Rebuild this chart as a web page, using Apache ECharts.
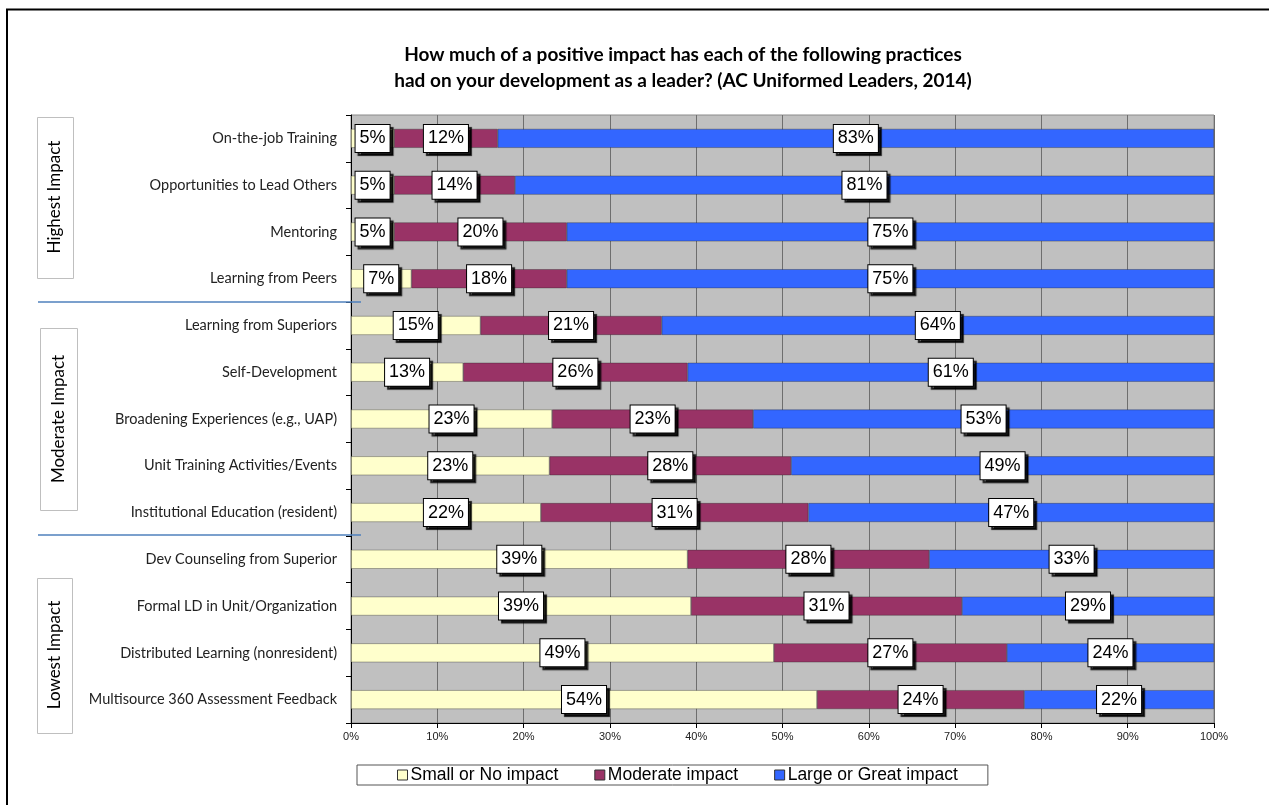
<!DOCTYPE html>
<html>
<head>
<meta charset="utf-8">
<script src="https://cdn.jsdelivr.net/npm/echarts@6/dist/echarts.min.js"></script>
<style>
html,body{margin:0;padding:0;background:#fff;}
#chart{width:1269px;height:805px;}
</style>
</head>
<body>
<div id="chart"></div>
<script>
const categories = [
  'On-the-job Training',
  'Opportunities to Lead Others',
  'Mentoring',
  'Learning from Peers',
  'Learning from Superiors',
  'Self-Development',
  'Broadening Experiences (e.g., UAP)',
  'Unit Training Activities/Events',
  'Institutional Education (resident)',
  'Dev Counseling from Superior',
  'Formal LD in Unit/Organization',
  'Distributed Learning (nonresident)',
  'Multisource 360 Assessment Feedback'
];
const smallImpact    = [5, 5, 5, 7, 15, 13, 23.3, 23, 22, 39, 39.4, 49, 54];
const moderateImpact = [12, 14, 20, 18, 21, 26, 23.3, 28, 31, 28, 31.4, 27, 24];
const largeImpact    = [83, 81, 75, 75, 64, 61, 53.4, 49, 47, 33, 29.2, 24, 22];
const seriesNames = ['Small or No impact', 'Moderate impact', 'Large or Great impact'];
const xTicks = [0, 10, 20, 30, 40, 50, 60, 70, 80, 90, 100];
const groups = ['Highest Impact', 'Moderate Impact', 'Lowest Impact'];

const colors = ['#FFFFCC', '#993366', '#3366FF'];
const calibri = 'Lato, "Open Sans", sans-serif';
const arial = '"Liberation Sans", Arial, sans-serif';

const labelStyle = {
  show: true,
  position: 'inside',
  formatter: p => Math.round(p.value) + '%',
  fontFamily: arial,
  fontSize: 18,
  color: '#000',
  backgroundColor: '#fff',
  borderColor: '#000',
  borderWidth: 1,
  padding: [5, 4, 4, 4],
  shadowColor: 'rgba(0,0,0,0.85)',
  shadowBlur: 1,
  shadowOffsetX: 3,
  shadowOffsetY: 3
};

function mkSeries(i, data) {
  return {
    name: seriesNames[i],
    type: 'bar',
    stack: 'total',
    data: data,
    barWidth: 19,
    itemStyle: { color: colors[i], borderColor: 'rgba(40,40,40,0.6)', borderWidth: 0.6 },
    label: labelStyle,
    emphasis: { disabled: true }
  };
}

const chart = echarts.init(document.getElementById('chart'), null, { renderer: 'canvas' });

const groupBoxes = [
  { x: 37, y: 117, w: 36, h: 161, cx: 55, cy: 197 },
  { x: 40, y: 328, w: 37, h: 182, cx: 58.5, cy: 419 },
  { x: 37, y: 578, w: 35, h: 155, cx: 54.5, cy: 655 }
];
const graphics = [
  { type: 'polyline', shape: { points: [[7, 1000], [7, 9.5], [1300, 9.5]] }, style: { stroke: '#000', lineWidth: 2, fill: null }, silent: true },
  { type: 'line', shape: { x1: 38, y1: 302, x2: 361, y2: 302 }, style: { stroke: '#4F81BD', lineWidth: 1.5 }, silent: true, z: 10 },
  { type: 'line', shape: { x1: 38, y1: 535, x2: 361, y2: 535 }, style: { stroke: '#4F81BD', lineWidth: 1.5 }, silent: true, z: 10 }
];
groupBoxes.forEach((b, i) => {
  graphics.push({ type: 'rect', shape: { x: b.x + 0.5, y: b.y + 0.5, width: b.w, height: b.h }, style: { fill: '#fff', stroke: '#BFBFBF', lineWidth: 1 }, silent: true });
  graphics.push({ type: 'text', x: b.cx, y: b.cy, rotation: Math.PI / 2, style: { text: groups[i], fontFamily: calibri, fontSize: 17, fill: '#000', align: 'center', verticalAlign: 'middle' }, silent: true });
});

chart.setOption({
  animation: false,
  backgroundColor: '#fff',
  title: {
    text: 'How much of a positive impact has each of the following practices\nhad on your development as a leader? (AC Uniformed Leaders, 2014)',
    left: 678,
    top: 37,
    textAlign: 'center',
    textStyle: { fontFamily: calibri, fontSize: 19, fontWeight: 'bold', color: '#000', lineHeight: 26 }
  },
  legend: {
    data: seriesNames,
    left: 357,
    top: 765,
    orient: 'horizontal',
    backgroundColor: '#fff',
    borderColor: '#555',
    borderWidth: 1,
    padding: [1, 30, 1, 40],
    itemWidth: 10,
    itemHeight: 10,
    itemGap: 36,
    icon: 'rect',
    itemStyle: { borderColor: '#333', borderWidth: 1 },
    textStyle: { fontFamily: arial, fontSize: 17.5, color: '#000', padding: [0, 0, 0, -2] },
    selectedMode: false
  },
  grid: {
    left: 351, right: 55, top: 115, bottom: 82,
    show: true, backgroundColor: '#C0C0C0', borderColor: '#8A8A8A', borderWidth: 1
  },
  xAxis: {
    type: 'value', min: 0, max: 100, interval: 10,
    axisLine: { show: true, lineStyle: { color: '#000', width: 1 } },
    axisTick: { show: true, length: 5, lineStyle: { color: '#000' } },
    axisLabel: { formatter: v => xTicks.includes(v) ? v + '%' : '', fontFamily: arial, fontSize: 11, color: '#222', margin: 8 },
    splitLine: { show: true, lineStyle: { color: '#6E6E6E', width: 1 } }
  },
  yAxis: {
    type: 'category', data: categories, inverse: true,
    axisLine: { show: true, lineStyle: { color: '#000', width: 1 } },
    axisTick: { show: true, length: 5, lineStyle: { color: '#000' } },
    axisLabel: { fontFamily: calibri, fontSize: 14.5, color: '#222', margin: 14 },
    splitLine: { show: false }
  },
  series: [mkSeries(0, smallImpact), mkSeries(1, moderateImpact), mkSeries(2, largeImpact)],
  graphic: graphics
});
</script>
</body>
</html>
